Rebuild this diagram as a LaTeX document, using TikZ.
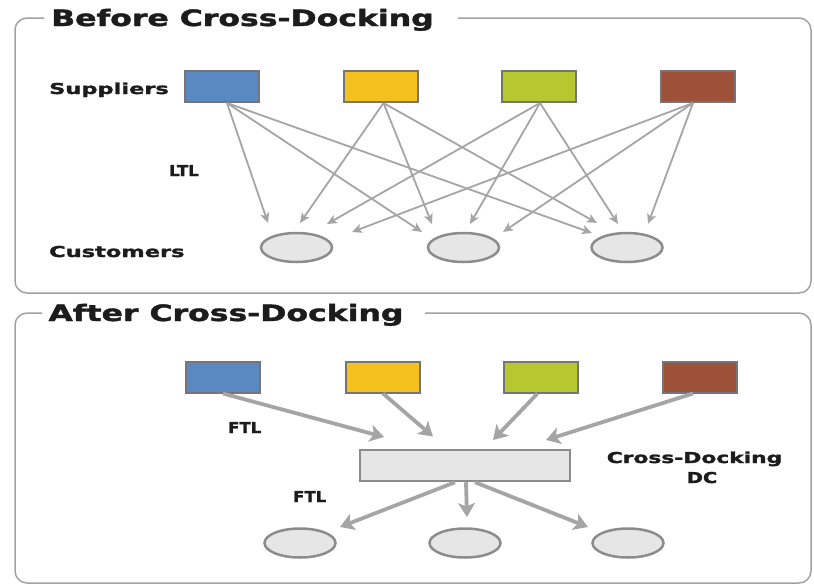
\documentclass[tikz,border=0pt]{standalone}
\usepackage{fontspec}
\setmainfont{DejaVu Sans}
\newfontfamily\heavyfont[BoldFeatures={FakeBold=1.6}]{DejaVu Sans}
\usetikzlibrary{arrows.meta,shapes.geometric}

\definecolor{framegray}{HTML}{A2A2A2}
\definecolor{edgegray}{HTML}{757575}
\definecolor{ringgray}{HTML}{8C8C8C}
\definecolor{arrowgray}{HTML}{A5A5A5}
\definecolor{fillgray}{HTML}{E6E6E6}
\definecolor{inkblack}{HTML}{1C1C1C}
\definecolor{supblue}{HTML}{5A88C0}
\definecolor{supyellow}{HTML}{F5C11E}
\definecolor{supgreen}{HTML}{B7C72F}
\definecolor{supbrown}{HTML}{9E5139}

% stretched heavy lettering
\newcommand{\widetext}[2][1.45]{\scalebox{#1}[1]{#2}}

\tikzset{
  panel/.style={draw=framegray, line width=1.5pt, rounded corners=12pt},
  heading/.style={font=\heavyfont\fontsize{22.5}{24}\selectfont\bfseries, text=inkblack, inner sep=0pt, anchor=base},
  tag/.style={font=\heavyfont\fontsize{15}{17}\selectfont\bfseries, text=inkblack, inner sep=0pt},
  supplier/.style={draw=edgegray, line width=2pt, minimum width=74pt, minimum height=31pt, inner sep=0pt},
  customer/.style={ellipse, draw=ringgray, fill=fillgray, line width=2.5pt, minimum width=71pt, minimum height=29pt, inner sep=0pt},
  hub/.style={draw=ringgray, fill=fillgray, line width=2.5pt, minimum width=210pt, minimum height=31pt, inner sep=0pt},
  ltl/.style={draw=arrowgray, line width=1.8pt, -{Stealth[length=10pt,width=9pt,inset=2.5pt]}},
  ftl/.style={draw=arrowgray, line width=3.8pt, -{Stealth[length=14pt,width=17pt,inset=3.5pt]}}
}

\begin{document}
\begin{tikzpicture}[x=1pt,y=-1pt]
\useasboundingbox (0,0) rectangle (814,587);

% ---------- panel frames ----------
\draw[panel] (44,18) -| (15,293) -| (811,18) -- (458,18);
\draw[panel] (42,313) -| (15,583) -| (811,313) -- (425,313);

\node[heading] (titleA) at (242.5,26) {\widetext[1.4]{Before Cross-Docking}};
\node[heading] (titleB) at (226,321) {\widetext[1.4]{After Cross-Docking}};

% ---------- before: point-to-point LTL ----------
\node[supplier, fill=supblue]   (s1) at (222,86.5) {};
\node[supplier, fill=supyellow] (s2) at (380.5,86.5) {};
\node[supplier, fill=supgreen]  (s3) at (539,86.5) {};
\node[supplier, fill=supbrown]  (s4) at (698,86.5) {};

\node[customer] (c1) at (296.5,247.5) {};
\node[customer] (c2) at (463.5,247.5) {};
\node[customer] (c3) at (627,247.5) {};

\node[tag, anchor=base west] (lblS) at (49,94) {\widetext[1.5]{Suppliers}};
\node[tag, anchor=base west] (lblC) at (49,257) {\widetext[1.5]{Customers}};
\node[tag, anchor=base west] (lblL) at (169,176) {\widetext[1.1]{LTL}};

\foreach \s/\sx/\c/\tx/\ty in {
  1/5/1/-28.5/-24.5, 1/5/2/-41.5/-15.5, 1/5/3/-35/-14.5,
  2/3/1/3.5/-24.5,   2/3/2/-31.5/-23.5, 2/3/3/-30/-24.5,
  3/1/1/30.5/-23.5,  3/1/2/6.5/-23.5,   3/1/3/-9/-23.5,
  4/-5/1/55.5/-15.5, 4/-5/2/39.5/-15.5, 4/-5/3/21/-23.5}
  \draw[ltl] ([xshift=\sx pt]s\s.south) -- ([shift={(\tx,\ty)}]c\c.center);

% ---------- after: consolidation through the DC ----------
\node[supplier, fill=supblue]   (b1) at (223,377) {};
\node[supplier, fill=supyellow] (b2) at (383,377) {};
\node[supplier, fill=supgreen]  (b3) at (540.5,377) {};
\node[supplier, fill=supbrown]  (b4) at (700,377) {};

\node[hub] (dc) at (465,465.5) {};

\node[customer] (d1) at (300,543) {};
\node[customer] (d2) at (465,543) {};
\node[customer] (d3) at (628,543) {};

\node[tag, anchor=base west] (lblF1) at (228,433) {\widetext[1.1]{FTL}};
\node[tag, anchor=base west] (lblF2) at (293,502) {\widetext[1.1]{FTL}};
\node[tag, anchor=base] (lblDC1) at (694.5,463) {\widetext[1.45]{Cross-Docking}};
\node[tag, anchor=base] (lblDC2) at (702,483) {\widetext[1.3]{DC}};

\draw[ftl] (b1.south) -- ([shift={(-81,-28.5)}]dc.center);
\draw[ftl] (b2.south) -- ([shift={(-32,-29)}]dc.center);
\draw[ftl] ([xshift=-3pt]b3.south) -- ([shift={(28,-25.5)}]dc.center);
\draw[ftl] ([xshift=-7pt]b4.south) -- ([shift={(81,-25.5)}]dc.center);

\draw[ftl] ([xshift=-10pt]dc.south) -- ([shift={(40,-16)}]d1.center);
\draw[ftl] ([xshift=1pt]dc.south) -- ([shift={(2,-26)}]d2.center);
\draw[ftl] ([xshift=10pt]dc.south) -- ([shift={(-40,-16)}]d3.center);
\end{tikzpicture}
\end{document}
